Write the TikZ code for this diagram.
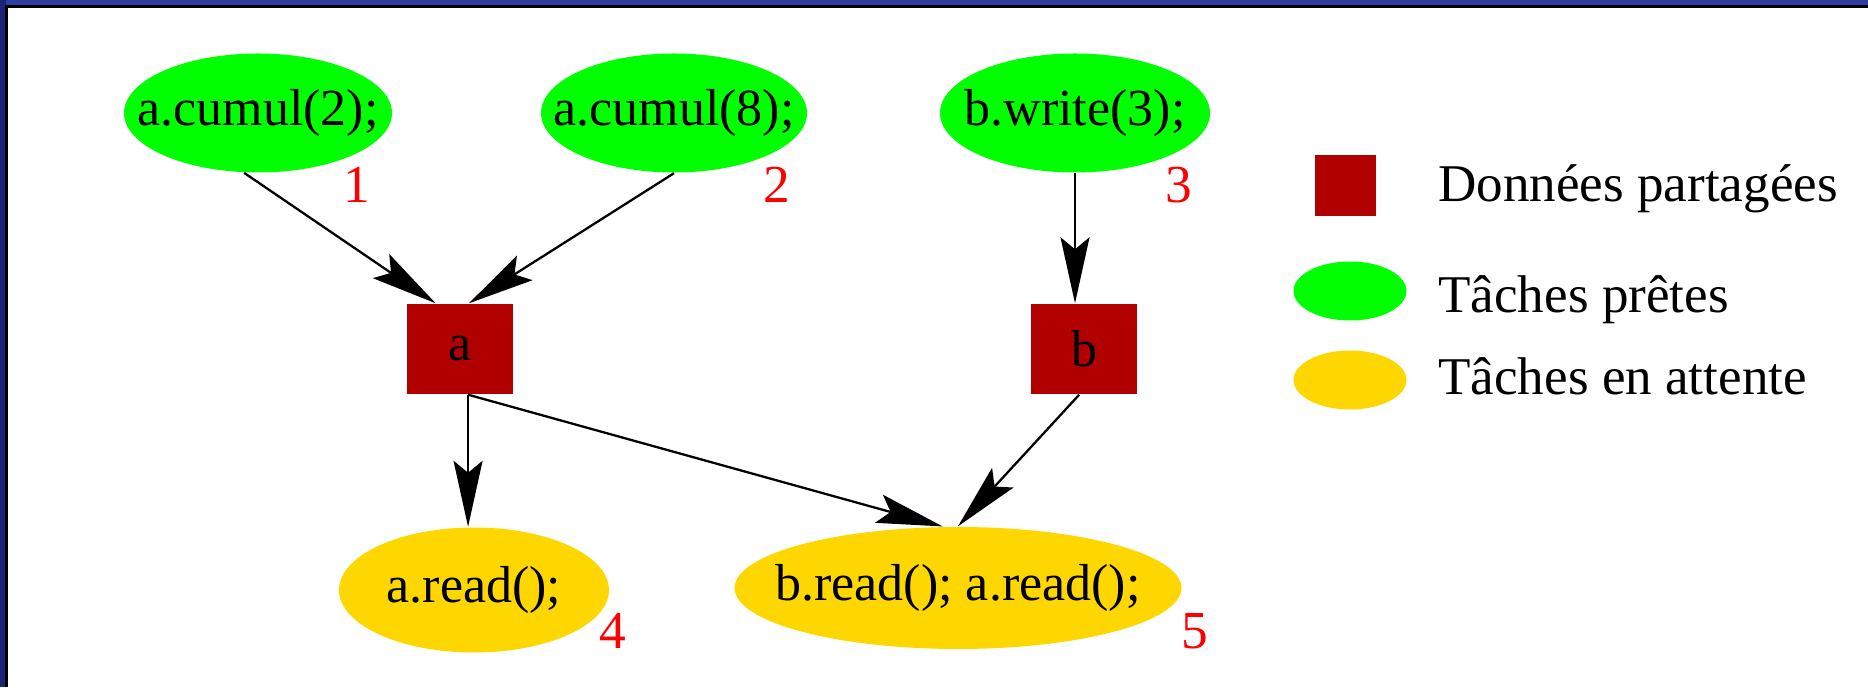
\documentclass[tikz,border=0pt]{standalone}
\usepackage{fontspec}
\setmainfont{Liberation Serif}
\usetikzlibrary{arrows.meta, calc, positioning, shapes.geometric}
\definecolor{frameblue}{RGB}{44,62,158}
\definecolor{frameside}{RGB}{28,36,122}
\definecolor{readygreen}{RGB}{0,255,0}
\definecolor{waitgold}{RGB}{255,215,0}
\definecolor{shareddark}{RGB}{176,0,0}

\begin{document}
\begin{tikzpicture}[>={Stealth[length=6.6mm, width=2.9mm, inset=1.2mm]},
        task/.style={ellipse, inner sep=0pt, font=\fontsize{14.8}{18}\selectfont,
            execute at begin node={\hbox to 0pt\bgroup\hss}, execute at end node={\hss\egroup}},
        ready/.style={task, fill=readygreen, minimum height=1.19cm},
        waiting/.style={task, fill=waitgold},
        shared/.style={rectangle, fill=shareddark, inner sep=0pt, font=\fontsize{14.8}{18}\selectfont},
        num/.style={text=red, font=\fontsize{15.2}{18}\selectfont},
        dep/.style={->, line width=0.65pt},
        legtext/.style={anchor=base west, font=\fontsize{15.1}{18}\selectfont}]
    \useasboundingbox (0,0) rectangle (18.68,6.87);

    % Frame
    \fill[frameblue] (0,6.81) rectangle (18.68,6.87);
    \fill[frameside] (0,0) rectangle (0.06,6.87);
    \draw[black, line width=0.3mm] (0.065,0) -- (0.065,6.805) -- (18.68,6.805);

    % Ready tasks
    \node[ready, minimum width=2.68cm] (c2) at (2.58,5.74) {a.cumul(2);};
    \node[ready, minimum width=2.66cm] (c8) at (6.74,5.74) {a.cumul(8);};
    \node[ready, minimum width=2.70cm] (w3) at (10.75,5.74) {b.write(3);};
    \node[num] (n1) at (3.57,5.02) {1};
    \node[num] (n2) at (7.77,5.02) {2};
    \node[num] (n3) at (11.79,5.02) {3};

    % Shared data
    \node[shared, minimum width=1.06cm, minimum height=0.90cm] (a) at (4.60,3.38) {a};
    \node[shared, minimum width=1.06cm, minimum height=0.90cm] (b) at (10.84,3.38) {b};

    % Waiting tasks
    \node[waiting, minimum width=2.70cm, minimum height=1.25cm] (r4) at (4.74,0.97) {a.read();};
    \node[waiting, minimum width=4.47cm, minimum height=1.22cm] (r5) at (9.58,0.99) {b.read(); a.read();};
    \node[num] (n4) at (6.13,0.56) {4};
    \node[num] (n5) at (11.95,0.56) {5};

    % Dependencies
    \draw[dep] (c2.-103) -- (a.118);
    \draw[dep] (c8.south) -- (a.79);
    \draw[dep] (w3.south) -- (w3.south |- b.north);
    \draw[dep] (a.-80) -- (a.-80 |- r4.north);
    \draw[dep] (a.-80) -- (r5.104);
    \draw[dep] (b.-96) -- (r5.north);

    % Legend
    \node[fill=shareddark, inner sep=0pt, minimum width=0.61cm, minimum height=0.61cm] (legshared) at (13.455,5.015) {};
    \node[ellipse, fill=readygreen, inner sep=0pt, minimum width=1.13cm, minimum height=0.59cm] (legready) at (13.50,3.96) {};
    \node[ellipse, fill=waitgold, inner sep=0pt, minimum width=1.13cm, minimum height=0.59cm] (legwait) at (13.50,3.07) {};
    \node[legtext] (tshared) at (14.26,4.85) {Données partagées};
    \node[legtext] (tready) at (14.26,3.74) {Tâches prêtes};
    \node[legtext] (twait) at (14.26,2.92) {Tâches en attente};
\end{tikzpicture}
\end{document}
